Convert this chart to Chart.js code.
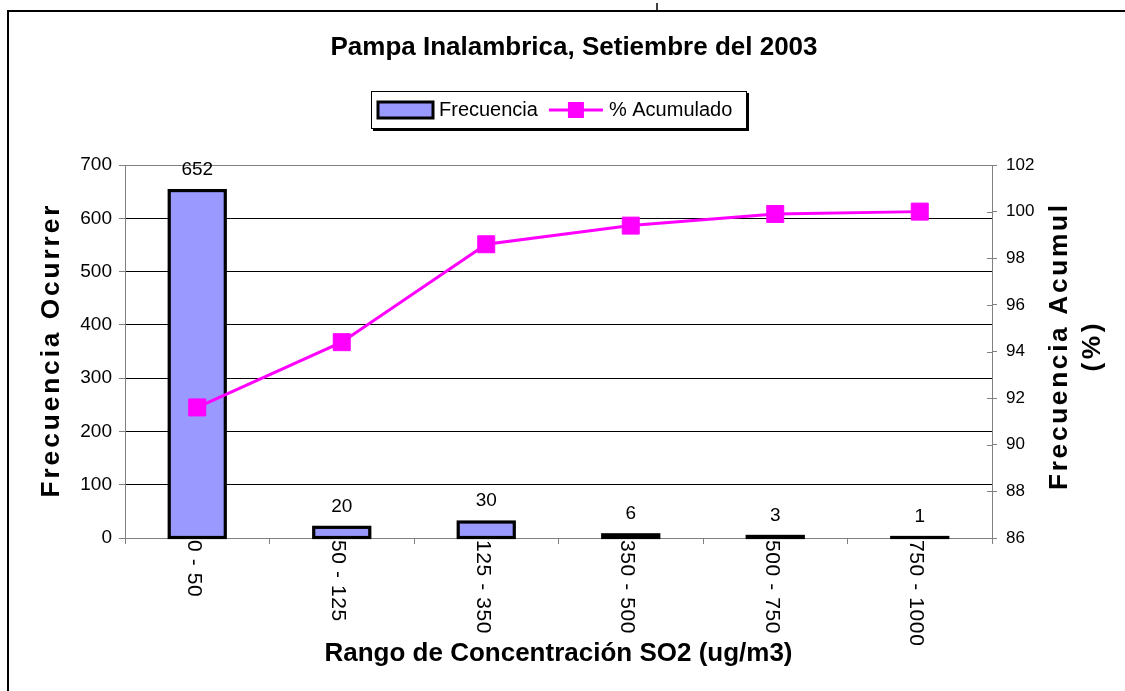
<!DOCTYPE html>
<html><head><meta charset="utf-8">
<script src="https://cdn.jsdelivr.net/npm/chart.js@4.4.0/dist/chart.umd.min.js"></script>
<style>html,body{margin:0;padding:0;background:#fff;overflow:hidden}</style>
</head><body>
<canvas id="c" width="1125" height="691"></canvas>
<script>
const categories = ['0 - 50', '50 - 125', '125 - 350', '350 - 500', '500 - 750', '750 - 1000'];
const frecuencia = [652, 20, 30, 6, 3, 1];
const acumulado = [91.6, 94.4, 98.6, 99.4, 99.9, 100];
const leftTicks = [0, 100, 200, 300, 400, 500, 600, 700];
const rightTicks = [86, 88, 90, 92, 94, 96, 98, 100, 102];
const chartTitle = 'Pampa Inalambrica, Setiembre del 2003';
const xTitle = 'Rango de Concentración SO2 (ug/m3)';
const yLeftTitle = 'Frecuencia Ocurrer';
const yRightTitle = ['Frecuencia Acumul', '(%)'];
const legendLabels = ['Frecuencia', '% Acumulado'];

const FONT = "'Liberation Sans', Arial, sans-serif";
const BAR_FILL = '#9999FF';
const LINE_COL = '#FF00FF';
const AXIS_COL = '#808080';

// draw bold text rotated bottom-to-top, spaced out to a target length
function drawVText(ctx, text, cx, cy, size, stretch, targetLen) {
  ctx.save();
  ctx.font = `bold ${size}px ${FONT}`;
  const natural = ctx.measureText(text).width;
  const n = text.length;
  const spacing = Math.max(0, (targetLen / stretch - natural) / (n - 1));
  ctx.translate(cx, cy);
  ctx.rotate(-Math.PI / 2);
  ctx.scale(stretch, 1);
  ctx.letterSpacing = spacing + 'px';
  ctx.fillStyle = '#000';
  ctx.textAlign = 'center';
  ctx.textBaseline = 'middle';
  ctx.fillText(text, spacing / 2, 0);
  ctx.restore();
}

const decor = {
  id: 'decor',
  beforeDraw(chart) {
    const ctx = chart.ctx;
    ctx.save();
    ctx.fillStyle = '#fff';
    ctx.fillRect(0, 0, chart.width, chart.height);
    ctx.restore();
  },
  afterDatasetDraw(chart, args) {
    if (chart.data.datasets[args.index].type !== 'bar') return;
    const ctx = chart.ctx;
    ctx.save();
    ctx.strokeStyle = '#000';
    ctx.lineWidth = 3.2;
    args.meta.data.forEach(el => {
      const w = el.width;
      ctx.strokeRect(el.x - w / 2, el.y, w, el.base - el.y);
    });
    ctx.restore();
  },
  afterDraw(chart) {
    const ctx = chart.ctx;
    const ca = chart.chartArea;
    const xs = chart.scales.x, y1 = chart.scales.y1;
    ctx.save();
    // data labels
    const barMeta = chart.getDatasetMeta(1);
    ctx.font = `19px ${FONT}`;
    ctx.fillStyle = '#000';
    ctx.textAlign = 'center';
    ctx.textBaseline = 'middle';
    barMeta.data.forEach((el, i) => {
      ctx.fillText(String(frecuencia[i]), el.x, el.y - 21);
    });
    // x category labels (rotated clockwise)
    ctx.font = `21px ${FONT}`;
    categories.forEach((lab, i) => {
      const px = xs.getPixelForValue(i);
      ctx.save();
      ctx.translate(px - 3.5, ca.bottom + 2);
      ctx.rotate(Math.PI / 2);
      ctx.letterSpacing = '0.6px';
      ctx.textAlign = 'left';
      ctx.textBaseline = 'middle';
      ctx.fillText(lab, 0, 0);
      ctx.restore();
    });
    // inner halves of right axis ticks
    ctx.strokeStyle = AXIS_COL;
    ctx.lineWidth = 1;
    rightTicks.forEach(v => {
      const py = Math.round(y1.getPixelForValue(v)) + 0.5;
      ctx.beginPath();
      ctx.moveTo(ca.right - 5, py);
      ctx.lineTo(ca.right, py);
      ctx.stroke();
    });
    // axis titles
    const cy = (ca.top + ca.bottom) / 2;
    drawVText(ctx, yLeftTitle, 52, cy, 25, 1.05, 292);
    drawVText(ctx, yRightTitle[0], 1060, cy - 4, 25, 1.05, 285);
    drawVText(ctx, yRightTitle[1], 1093, cy - 4, 25, 1.05, 48);
    // legend
    ctx.font = `20px ${FONT}`;
    const w1 = ctx.measureText(legendLabels[0]).width;
    const w2 = ctx.measureText(legendLabels[1]).width;
    const W = Math.round(7 + 55 + 6 + w1 + 11 + 54 + 6 + w2 + 15);
    const H = 38;
    const lcx = (ca.left + ca.right) / 2;
    const x0 = Math.round(lcx - W / 2), y0 = 91;
    ctx.fillStyle = '#000';
    ctx.fillRect(x0 + 2, y0 + 2, W, H);
    ctx.fillStyle = '#fff';
    ctx.fillRect(x0, y0, W, H);
    ctx.strokeStyle = '#000';
    ctx.lineWidth = 1;
    ctx.strokeRect(x0 + 0.5, y0 + 0.5, W - 1, H - 1);
    const ly = y0 + 19;
    ctx.fillStyle = BAR_FILL;
    ctx.fillRect(x0 + 7, ly - 8, 55, 16);
    ctx.lineWidth = 3;
    ctx.strokeRect(x0 + 7, ly - 8, 55, 16);
    ctx.fillStyle = '#000';
    ctx.textAlign = 'left';
    ctx.textBaseline = 'middle';
    ctx.fillText(legendLabels[0], x0 + 68, ly);
    const xl = x0 + 68 + w1 + 11;
    ctx.strokeStyle = LINE_COL;
    ctx.lineWidth = 3;
    ctx.beginPath();
    ctx.moveTo(xl, ly); ctx.lineTo(xl + 54, ly); ctx.stroke();
    ctx.fillStyle = LINE_COL;
    ctx.fillRect(xl + 27 - 8, ly - 8, 16, 16);
    ctx.fillStyle = '#000';
    ctx.fillText(legendLabels[1], xl + 60, ly);
    // outer frame
    ctx.strokeStyle = '#000';
    ctx.lineWidth = 2;
    ctx.beginPath();
    ctx.moveTo(8, 11); ctx.lineTo(chart.width, 11);
    ctx.moveTo(8, 10); ctx.lineTo(8, chart.height);
    ctx.stroke();
    ctx.lineWidth = 1.5;
    ctx.beginPath();
    ctx.moveTo(657, 3); ctx.lineTo(657, 10);
    ctx.stroke();
    ctx.restore();
  }
};

new Chart(document.getElementById('c'), {
  type: 'bar',
  data: {
    labels: categories,
    datasets: [
      {
        type: 'line', label: legendLabels[1], data: acumulado, yAxisID: 'y1', order: 0,
        borderColor: LINE_COL, backgroundColor: LINE_COL, borderWidth: 3, tension: 0,
        pointStyle: 'rect', pointRadius: 12, pointHoverRadius: 12, pointBorderWidth: 1,
        pointBackgroundColor: LINE_COL, pointBorderColor: LINE_COL
      },
      {
        type: 'bar', label: legendLabels[0], data: frecuencia, yAxisID: 'y', order: 1,
        backgroundColor: BAR_FILL, borderWidth: 0, barPercentage: 0.388, categoryPercentage: 1
      }
    ]
  },
  options: {
    responsive: false, animation: false, devicePixelRatio: 1,
    layout: { padding: { left: 23, right: 0, top: 0, bottom: 0 } },
    plugins: {
      legend: { display: false },
      tooltip: { enabled: false },
      title: {
        display: true, text: chartTitle, color: '#000',
        font: { family: FONT, size: 26, weight: 'bold' },
        padding: { top: 32, bottom: 101.8 }
      }
    },
    scales: {
      x: {
        position: 'bottom', offset: true,
        grid: { display: true, offset: true, drawOnChartArea: false, drawTicks: true, tickLength: 6, color: AXIS_COL },
        border: { color: AXIS_COL, width: 1 },
        ticks: { display: false },
        title: { display: true, text: xTitle, color: '#000', font: { family: FONT, size: 26, weight: 'bold' }, padding: { top: 0, bottom: 22 } },
        afterFit(s) { s.height = 153; }
      },
      y: {
        position: 'left', min: 0, max: 700,
        afterBuildTicks(s) { s.ticks = leftTicks.map(v => ({ value: v })); },
        grid: {
          color: c => (c.tick && (c.tick.value === 700 || c.tick.value === 0)) ? AXIS_COL : '#000',
          lineWidth: 1, tickLength: 6, tickColor: AXIS_COL
        },
        border: { color: AXIS_COL },
        ticks: { color: '#000', font: { family: FONT, size: 19 }, padding: 7 },
        afterFit(s) { s.width = 102; }
      },
      y1: {
        position: 'right', min: 86, max: 102,
        afterBuildTicks(s) { s.ticks = rightTicks.map(v => ({ value: v })); },
        grid: { drawOnChartArea: false, tickLength: 5, color: AXIS_COL },
        border: { color: AXIS_COL },
        ticks: { color: '#000', font: { family: FONT, size: 17 }, padding: 9 },
        afterFit(s) { s.width = 133; }
      }
    }
  },
  plugins: [decor]
});
</script>
</body></html>
